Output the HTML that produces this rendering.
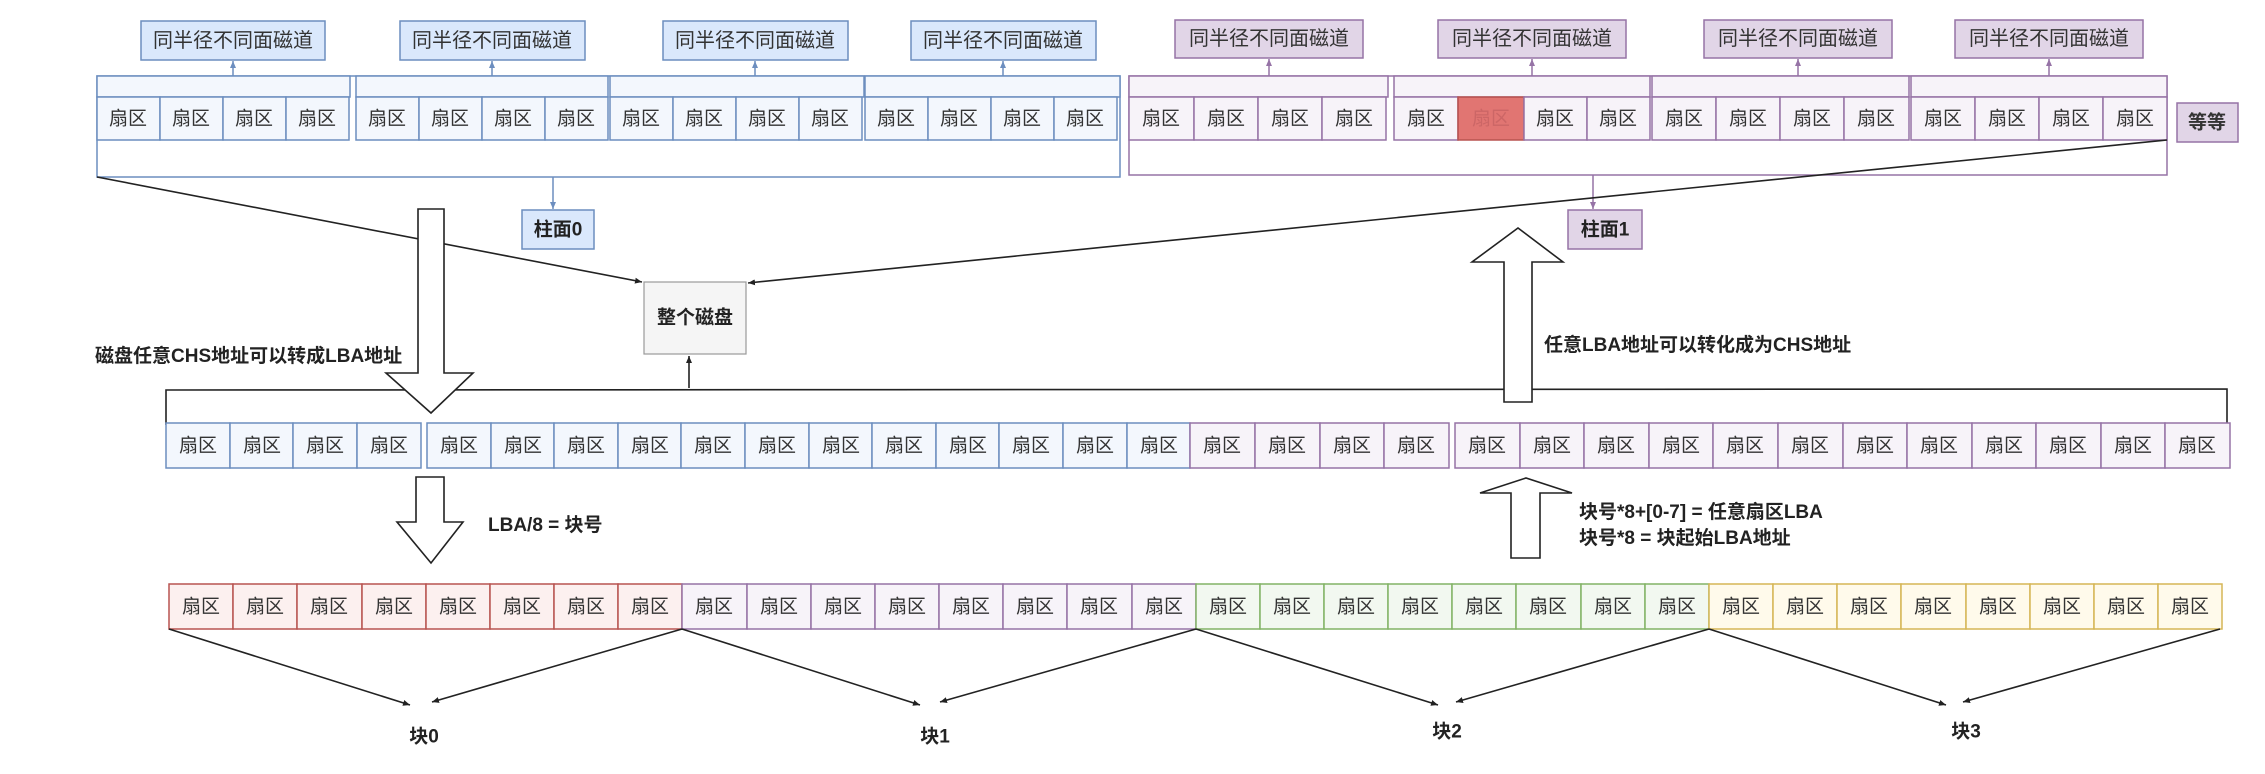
<!DOCTYPE html>
<html><head><meta charset="utf-8"><style>
html,body{margin:0;padding:0;background:#fff;}
svg{display:block;}
text{font-family:"Liberation Sans","Noto Sans CJK SC",sans-serif;}
.s{font-size:19px;fill:#333;text-anchor:middle;dominant-baseline:central;}
.t{font-size:20px;fill:#333;text-anchor:middle;dominant-baseline:central;}
.b{font-size:19px;font-weight:bold;fill:#222;}
.bc{font-size:19px;font-weight:bold;fill:#222;text-anchor:middle;dominant-baseline:central;}
.bl rect{fill:#f3f7fd;stroke:#6c8ebf;stroke-width:1.5;}
.pu rect{fill:#f7f3f9;stroke:#9673a6;stroke-width:1.5;}
.re rect{fill:#fcf0ef;stroke:#b85450;stroke-width:1.5;}
.gr rect{fill:#f2f8f0;stroke:#82b366;stroke-width:1.5;}
.ye rect{fill:#fffaeb;stroke:#d6b656;stroke-width:1.5;}
.ln{stroke:#222;stroke-width:1.6;fill:none;}
</style></head><body>
<svg width="2265" height="774" viewBox="0 0 2265 774" xmlns="http://www.w3.org/2000/svg">
<defs>
<marker id="ah" markerWidth="8" markerHeight="8" refX="7" refY="4" orient="auto" markerUnits="userSpaceOnUse"><path d="M0,1 L7,4 L0,7 z" fill="#222"/></marker>
<marker id="ab" markerWidth="8" markerHeight="8" refX="7" refY="4" orient="auto" markerUnits="userSpaceOnUse"><path d="M0,1 L7,4 L0,7 z" fill="#6c8ebf"/></marker>
<marker id="ap" markerWidth="8" markerHeight="8" refX="7" refY="4" orient="auto" markerUnits="userSpaceOnUse"><path d="M0,1 L7,4 L0,7 z" fill="#9673a6"/></marker>
</defs>

<!-- TOP BLUE -->
<g class="bl">
<rect x="97" y="76" width="1023" height="101" style="fill:none"/>
<rect x="97" y="76" width="253" height="21"/><rect x="356" y="76" width="252" height="21"/><rect x="610" y="76" width="254" height="21"/><rect x="865" y="76" width="255" height="21"/>
<rect x="141" y="21" width="184" height="39" style="fill:#dae8fc"/>
<rect x="400" y="21" width="185" height="39" style="fill:#dae8fc"/>
<rect x="663" y="21" width="185" height="39" style="fill:#dae8fc"/>
<rect x="911" y="21" width="185" height="39" style="fill:#dae8fc"/>
<rect x="522" y="210" width="72" height="39" style="fill:#dae8fc"/>
<rect x="97" y="97" width="63" height="43"/><rect x="160" y="97" width="63" height="43"/><rect x="223" y="97" width="63" height="43"/><rect x="286" y="97" width="63" height="43"/>
<rect x="356" y="97" width="63" height="43"/><rect x="419" y="97" width="63" height="43"/><rect x="482" y="97" width="63" height="43"/><rect x="545" y="97" width="63" height="43"/>
<rect x="610" y="97" width="63" height="43"/><rect x="673" y="97" width="63" height="43"/><rect x="736" y="97" width="63" height="43"/><rect x="799" y="97" width="63" height="43"/>
<rect x="865" y="97" width="63" height="43"/><rect x="928" y="97" width="63" height="43"/><rect x="991" y="97" width="63" height="43"/><rect x="1054" y="97" width="63" height="43"/>
</g>
<g stroke="#6c8ebf" stroke-width="1.5" marker-end="url(#ab)">
<line x1="233" y1="76" x2="233" y2="61"/><line x1="492" y1="76" x2="492" y2="61"/><line x1="755" y1="76" x2="755" y2="61"/><line x1="1003" y1="76" x2="1003" y2="61"/>
<line x1="553" y1="177" x2="553" y2="209"/>
</g>

<!-- TOP PURPLE -->
<g class="pu">
<rect x="1129" y="76" width="1038" height="99" style="fill:none"/>
<rect x="1129" y="76" width="259" height="21"/><rect x="1394" y="76" width="256" height="21"/><rect x="1652" y="76" width="257" height="21"/><rect x="1911" y="76" width="256" height="21"/>
<rect x="1175" y="20" width="188" height="38" style="fill:#e1d5e7"/>
<rect x="1438" y="20" width="188" height="38" style="fill:#e1d5e7"/>
<rect x="1704" y="20" width="188" height="38" style="fill:#e1d5e7"/>
<rect x="1955" y="20" width="188" height="38" style="fill:#e1d5e7"/>
<rect x="1568" y="210" width="74" height="39" style="fill:#e1d5e7"/>
<rect x="2177" y="103" width="61" height="39" style="fill:#e1d5e7"/>
<rect x="1129" y="97" width="65" height="43"/><rect x="1194" y="97" width="64" height="43"/><rect x="1258" y="97" width="64" height="43"/><rect x="1322" y="97" width="64" height="43"/>
<rect x="1394" y="97" width="64" height="43"/><rect x="1458" y="97" width="66" height="43" style="fill:#d9534f;stroke:#b85450;fill-opacity:0.8"/><rect x="1524" y="97" width="63" height="43"/><rect x="1587" y="97" width="63" height="43"/>
<rect x="1652" y="97" width="64" height="43"/><rect x="1716" y="97" width="64" height="43"/><rect x="1780" y="97" width="64" height="43"/><rect x="1844" y="97" width="65" height="43"/>
<rect x="1911" y="97" width="64" height="43"/><rect x="1975" y="97" width="64" height="43"/><rect x="2039" y="97" width="64" height="43"/><rect x="2103" y="97" width="64" height="43"/>
</g>
<g stroke="#9673a6" stroke-width="1.5" marker-end="url(#ap)">
<line x1="1269" y1="76" x2="1269" y2="59"/><line x1="1532" y1="76" x2="1532" y2="59"/><line x1="1798" y1="76" x2="1798" y2="59"/><line x1="2049" y1="76" x2="2049" y2="59"/>
<line x1="1593" y1="175" x2="1593" y2="209"/>
</g>

<!-- top texts -->
<g class="t">
<text x="233" y="41">同半径不同面磁道</text><text x="492" y="41">同半径不同面磁道</text><text x="755" y="41">同半径不同面磁道</text><text x="1003" y="41">同半径不同面磁道</text>
<text x="1269" y="39">同半径不同面磁道</text><text x="1532" y="39">同半径不同面磁道</text><text x="1798" y="39">同半径不同面磁道</text><text x="2049" y="39">同半径不同面磁道</text>
</g>
<g class="s">
<text x="128" y="119">扇区</text><text x="191" y="119">扇区</text><text x="254" y="119">扇区</text><text x="317" y="119">扇区</text>
<text x="387" y="119">扇区</text><text x="450" y="119">扇区</text><text x="513" y="119">扇区</text><text x="576" y="119">扇区</text>
<text x="641" y="119">扇区</text><text x="704" y="119">扇区</text><text x="767" y="119">扇区</text><text x="830" y="119">扇区</text>
<text x="896" y="119">扇区</text><text x="959" y="119">扇区</text><text x="1022" y="119">扇区</text><text x="1085" y="119">扇区</text>
<text x="1161" y="119">扇区</text><text x="1226" y="119">扇区</text><text x="1290" y="119">扇区</text><text x="1354" y="119">扇区</text>
<text x="1426" y="119">扇区</text><text x="1491" y="119" style="fill:#c66">扇区</text><text x="1555" y="119">扇区</text><text x="1618" y="119">扇区</text>
<text x="1684" y="119">扇区</text><text x="1748" y="119">扇区</text><text x="1812" y="119">扇区</text><text x="1876" y="119">扇区</text>
<text x="1943" y="119">扇区</text><text x="2007" y="119">扇区</text><text x="2071" y="119">扇区</text><text x="2135" y="119">扇区</text>
<text x="2207" y="123" style="font-weight:bold">等等</text>
</g>
<text class="bc" x="558" y="230">柱面0</text>
<text class="bc" x="1605" y="230">柱面1</text>

<!-- whole disk -->
<rect x="644" y="282" width="102" height="72" fill="#f5f5f5" stroke="#999" stroke-width="1.2"/>
<text class="bc" x="695" y="318">整个磁盘</text>
<line class="ln" x1="97" y1="177" x2="642" y2="282" marker-end="url(#ah)"/>
<line class="ln" x1="2167" y1="140" x2="748" y2="283" marker-end="url(#ah)"/>
<line class="ln" x1="689" y1="388" x2="689" y2="356" marker-end="url(#ah)"/>

<!-- bar -->
<polyline class="ln" points="166,425 166,390 2227,389 2227,425"/>

<!-- big arrows -->
<path d="M418,209 L444,209 L444,373 L473,373 L431,413 L386,373 L418,373 Z" fill="#fff" stroke="#222" stroke-width="1.6"/>
<path d="M1504,402 L1532,402 L1532,262 L1563,262 L1518,228 L1472,262 L1504,262 Z" fill="#fff" stroke="#222" stroke-width="1.6"/>
<path d="M416,477 L444,477 L444,522 L463,522 L431,563 L397,522 L416,522 Z" fill="#fff" stroke="#222" stroke-width="1.6"/>
<path d="M1511,558 L1540,558 L1540,493 L1572,493 L1526,478 L1480,493 L1511,493 Z" fill="#fff" stroke="#222" stroke-width="1.6"/>

<text class="b" x="95" y="362">磁盘任意CHS地址可以转成LBA地址</text>
<text class="b" x="1544" y="351">任意LBA地址可以转化成为CHS地址</text>
<text class="b" x="488" y="531">LBA/8 = 块号</text>
<text class="b" x="1579" y="518">块号*8+[0-7] = 任意扇区LBA</text>
<text class="b" x="1579" y="544">块号*8 = 块起始LBA地址</text>

<!-- middle row -->
<g class="bl">
<rect x="166" y="423" width="64" height="45"/><rect x="230" y="423" width="63" height="45"/><rect x="293" y="423" width="64" height="45"/><rect x="357" y="423" width="64" height="45"/>
<rect x="427" y="423" width="64" height="45"/><rect x="491" y="423" width="63" height="45"/><rect x="554" y="423" width="64" height="45"/><rect x="618" y="423" width="63" height="45"/>
<rect x="681" y="423" width="64" height="45"/><rect x="745" y="423" width="64" height="45"/><rect x="809" y="423" width="63" height="45"/><rect x="872" y="423" width="64" height="45"/>
<rect x="936" y="423" width="63" height="45"/><rect x="999" y="423" width="64" height="45"/><rect x="1063" y="423" width="64" height="45"/><rect x="1127" y="423" width="63" height="45"/>
</g>
<g class="pu">
<rect x="1190" y="423" width="65" height="45"/><rect x="1255" y="423" width="65" height="45"/><rect x="1320" y="423" width="64" height="45"/><rect x="1384" y="423" width="65" height="45"/>
<rect x="1455" y="423" width="65" height="45"/><rect x="1520" y="423" width="64" height="45"/><rect x="1584" y="423" width="65" height="45"/><rect x="1649" y="423" width="64" height="45"/>
<rect x="1713" y="423" width="65" height="45"/><rect x="1778" y="423" width="65" height="45"/><rect x="1843" y="423" width="64" height="45"/><rect x="1907" y="423" width="65" height="45"/>
<rect x="1972" y="423" width="64" height="45"/><rect x="2036" y="423" width="65" height="45"/><rect x="2101" y="423" width="64" height="45"/><rect x="2165" y="423" width="65" height="45"/>
</g>
<g class="s">
<text x="198" y="446">扇区</text><text x="262" y="446">扇区</text><text x="325" y="446">扇区</text><text x="389" y="446">扇区</text>
<text x="459" y="446">扇区</text><text x="523" y="446">扇区</text><text x="586" y="446">扇区</text><text x="650" y="446">扇区</text>
<text x="713" y="446">扇区</text><text x="777" y="446">扇区</text><text x="841" y="446">扇区</text><text x="904" y="446">扇区</text>
<text x="968" y="446">扇区</text><text x="1031" y="446">扇区</text><text x="1095" y="446">扇区</text><text x="1159" y="446">扇区</text>
<text x="1222" y="446">扇区</text><text x="1287" y="446">扇区</text><text x="1352" y="446">扇区</text><text x="1416" y="446">扇区</text>
<text x="1487" y="446">扇区</text><text x="1552" y="446">扇区</text><text x="1616" y="446">扇区</text><text x="1681" y="446">扇区</text>
<text x="1745" y="446">扇区</text><text x="1810" y="446">扇区</text><text x="1875" y="446">扇区</text><text x="1939" y="446">扇区</text>
<text x="2004" y="446">扇区</text><text x="2068" y="446">扇区</text><text x="2133" y="446">扇区</text><text x="2197" y="446">扇区</text>
</g>

<!-- bottom row -->
<g class="re">
<rect x="169" y="584" width="64" height="45"/><rect x="233" y="584" width="64" height="45"/><rect x="297" y="584" width="65" height="45"/><rect x="362" y="584" width="64" height="45"/>
<rect x="426" y="584" width="64" height="45"/><rect x="490" y="584" width="64" height="45"/><rect x="554" y="584" width="64" height="45"/><rect x="618" y="584" width="64" height="45"/>
</g>
<g class="pu">
<rect x="682" y="584" width="65" height="45"/><rect x="747" y="584" width="64" height="45"/><rect x="811" y="584" width="64" height="45"/><rect x="875" y="584" width="64" height="45"/>
<rect x="939" y="584" width="64" height="45"/><rect x="1003" y="584" width="64" height="45"/><rect x="1067" y="584" width="65" height="45"/><rect x="1132" y="584" width="64" height="45"/>
</g>
<g class="gr">
<rect x="1196" y="584" width="64" height="45"/><rect x="1260" y="584" width="64" height="45"/><rect x="1324" y="584" width="64" height="45"/><rect x="1388" y="584" width="64" height="45"/>
<rect x="1452" y="584" width="64" height="45"/><rect x="1516" y="584" width="65" height="45"/><rect x="1581" y="584" width="64" height="45"/><rect x="1645" y="584" width="64" height="45"/>
</g>
<g class="ye">
<rect x="1709" y="584" width="64" height="45"/><rect x="1773" y="584" width="64" height="45"/><rect x="1837" y="584" width="64" height="45"/><rect x="1901" y="584" width="65" height="45"/>
<rect x="1966" y="584" width="64" height="45"/><rect x="2030" y="584" width="64" height="45"/><rect x="2094" y="584" width="64" height="45"/><rect x="2158" y="584" width="64" height="45"/>
</g>
<g class="s">
<text x="201" y="607">扇区</text><text x="265" y="607">扇区</text><text x="329" y="607">扇区</text><text x="394" y="607">扇区</text>
<text x="458" y="607">扇区</text><text x="522" y="607">扇区</text><text x="586" y="607">扇区</text><text x="650" y="607">扇区</text>
<text x="714" y="607">扇区</text><text x="779" y="607">扇区</text><text x="843" y="607">扇区</text><text x="907" y="607">扇区</text>
<text x="971" y="607">扇区</text><text x="1035" y="607">扇区</text><text x="1099" y="607">扇区</text><text x="1164" y="607">扇区</text>
<text x="1228" y="607">扇区</text><text x="1292" y="607">扇区</text><text x="1356" y="607">扇区</text><text x="1420" y="607">扇区</text>
<text x="1484" y="607">扇区</text><text x="1548" y="607">扇区</text><text x="1613" y="607">扇区</text><text x="1677" y="607">扇区</text>
<text x="1741" y="607">扇区</text><text x="1805" y="607">扇区</text><text x="1869" y="607">扇区</text><text x="1933" y="607">扇区</text>
<text x="1998" y="607">扇区</text><text x="2062" y="607">扇区</text><text x="2126" y="607">扇区</text><text x="2190" y="607">扇区</text>
</g>

<!-- block connectors -->
<g class="ln" marker-end="url(#ah)">
<line x1="169" y1="629" x2="410" y2="705"/><line x1="682" y1="629" x2="432" y2="702"/>
<line x1="682" y1="629" x2="920" y2="705"/><line x1="1196" y1="629" x2="940" y2="702"/>
<line x1="1196" y1="629" x2="1438" y2="705"/><line x1="1709" y1="629" x2="1456" y2="702"/>
<line x1="1709" y1="629" x2="1946" y2="705"/><line x1="2220" y1="629" x2="1963" y2="702"/>
</g>
<text class="bc" x="424" y="737">块0</text>
<text class="bc" x="935" y="737">块1</text>
<text class="bc" x="1447" y="732">块2</text>
<text class="bc" x="1966" y="732">块3</text>
</svg>
</body></html>
